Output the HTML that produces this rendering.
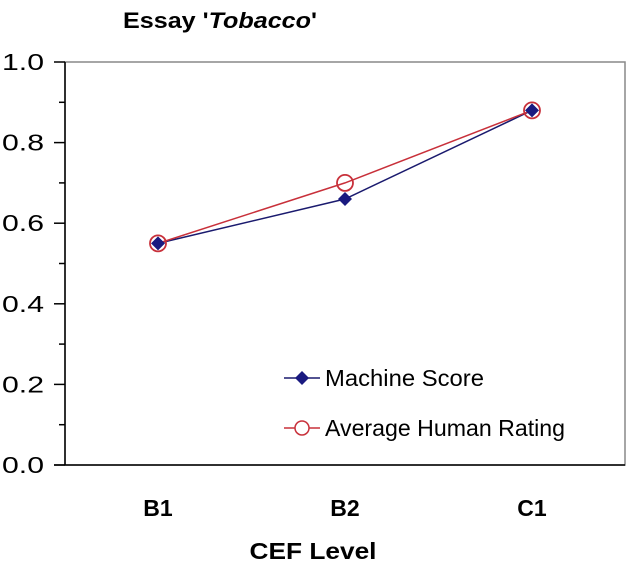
<!DOCTYPE html>
<html><head><meta charset="utf-8"><style>
body{margin:0;background:#fff;}
svg{display:block;font-family:"Liberation Sans",Arial,sans-serif;}
</style></head><body>
<svg id="chart" width="627" height="568">
<text x="123" y="28" font-size="22" font-weight="bold" textLength="194" lengthAdjust="spacingAndGlyphs">Essay '<tspan font-style="italic">Tobacco</tspan>'</text>
<g id="axes"></g>
<g id="series"></g>
<g>
<line x1="284" y1="378" x2="320" y2="378" stroke="#1a1a6e" stroke-width="1.5"/>
<path d="M302 371 L309 378 L302 385 L295 378 Z" fill="#1a1a80"/>
<text x="325" y="386" font-size="23" textLength="159" lengthAdjust="spacingAndGlyphs">Machine Score</text>
<line x1="284" y1="428" x2="320" y2="428" stroke="#c8303a" stroke-width="1.5"/>
<circle cx="302" cy="428" r="7" fill="#fff" stroke="#c8303a" stroke-width="1.5"/>
<text x="325" y="436" font-size="23" textLength="240" lengthAdjust="spacingAndGlyphs">Average Human Rating</text>
</g>
<text x="313" y="559" text-anchor="middle" font-size="23" font-weight="bold" textLength="127" lengthAdjust="spacingAndGlyphs">CEF Level</text>
</svg>
<script>
const categories=["B1","B2","C1"];
const machineScore=[0.55,0.66,0.88];
const humanRating=[0.55,0.70,0.88];
const yTicks=[0,0.2,0.4,0.6,0.8,1.0];
const yTickLabels=["0.0","0.2","0.4","0.6","0.8","1.0"];
const NS="http://www.w3.org/2000/svg";
const L=65,R=625,T=62,B=465;
const y=v=>B-(B-T)*v;
const x=i=>158+i*187;
function mk(t,a,p){const e=document.createElementNS(NS,t);for(const k in a)e.setAttribute(k,a[k]);p.appendChild(e);return e;}
const ax=document.getElementById('axes');
const frame=mk('rect',{x:L,y:T,width:R-L,height:B-T,fill:'none',stroke:'#888','stroke-width':1.5},ax);


mk('line',{x1:L,y1:T,x2:L,y2:B,stroke:'#000','stroke-width':1.5},ax);
mk('line',{x1:54,y1:B,x2:R,y2:B,stroke:'#000','stroke-width':1.5},ax);
yTicks.forEach((v,i)=>{
 mk('line',{x1:54,y1:y(v),x2:L,y2:y(v),stroke:'#000','stroke-width':1.5},ax);
 if(i<yTicks.length-1) mk('line',{x1:59,y1:y(v+0.1),x2:L,y2:y(v+0.1),stroke:'#000','stroke-width':1.5},ax);
 const t=mk('text',{x:44,y:y(v)+8,'text-anchor':'end','font-size':23,textLength:42,lengthAdjust:'spacingAndGlyphs'},ax);
 t.textContent=yTickLabels[i];
 
 
});
categories.forEach((c,i)=>{
 const t=mk('text',{x:x(i),y:516,'text-anchor':'middle','font-size':23,'font-weight':'bold'},ax);
 t.textContent=c;
 
 
});
const s=document.getElementById('series');
const pm=machineScore.map((v,i)=>x(i)+','+y(v)).join(' ');
const lm=mk('polyline',{points:pm,fill:'none',stroke:'#1a1a6e','stroke-width':1.5},s);


const ph=humanRating.map((v,i)=>x(i)+','+y(v)).join(' ');
const lh=mk('polyline',{points:ph,fill:'none',stroke:'#c8303a','stroke-width':1.5},s);


machineScore.forEach((v,i)=>{
 const cx=x(i),cy=y(v);
 const d=mk('path',{d:`M${cx} ${cy-7} L${cx+7} ${cy} L${cx} ${cy+7} L${cx-7} ${cy} Z`,fill:'#1a1a80'},s);
 
 
});
humanRating.forEach((v,i)=>{
 const c=mk('circle',{cx:x(i),cy:y(v),r:8,fill:'none',stroke:'#c8303a','stroke-width':1.8},s);
 
 
});
</script>
</body></html>
